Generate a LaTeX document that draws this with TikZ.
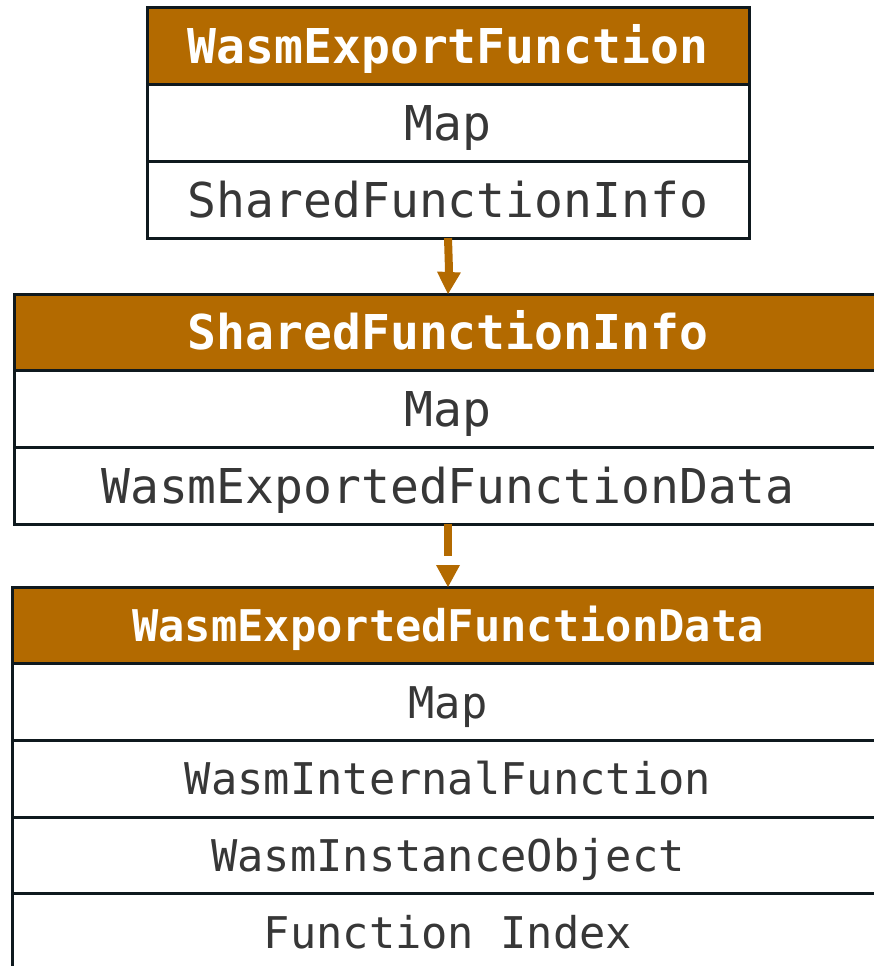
\documentclass[tikz,border=0pt]{standalone}
\usepackage{fontspec}
\usepackage{xcolor}
\usepackage{tikz}
\usetikzlibrary{arrows.meta,positioning}

\newfontfamily\codefont{DejaVu Sans Mono}
\definecolor{wasmbrown}{RGB}{179,106,0}
\definecolor{celltext}{RGB}{55,55,55}
\definecolor{cellline}{RGB}{15,25,30}

\begin{document}
\begin{tikzpicture}[
  x=1pt, y=-1pt,
  cell/.style={draw=cellline, line width=3pt, rectangle, outer sep=0pt,
    inner sep=0pt, minimum height=76.7pt, minimum width=#1,
    text height=35pt, text depth=0pt, align=center},
  head/.style={cell=#1, fill=wasmbrown, text=white,
    font=\codefont\bfseries\fontsize{48}{58}\selectfont},
  field/.style={cell=#1, fill=white, text=celltext,
    font=\codefont\fontsize{48}{58}\selectfont},
  smallhead/.style={head=#1, text height=32pt,
    font=\codefont\bfseries\fontsize{43.7}{52}\selectfont},
  smallfield/.style={field=#1, text height=32pt,
    font=\codefont\fontsize{43.7}{52}\selectfont},
  link/.style={-{Triangle[width=24pt, length=22pt, line width=0pt]},
    draw=wasmbrown, line width=8pt},
]
\clip (0,0) rectangle (874,966);

% --- WasmExportFunction
\node[head=602pt] (wef) at (448,46.35) {WasmExportFunction};
\node[field=602pt, below=0pt of wef] (wefmap) {Map};
\node[field=602pt, below=0pt of wefmap] (wefsfi) {SharedFunctionInfo};

% --- SharedFunctionInfo
\node[head=868pt] (sfi) at (448,332.35) {SharedFunctionInfo};
\node[field=868pt, below=0pt of sfi] (sfimap) {Map};
\node[field=868pt, below=0pt of sfimap] (sfidata) {WasmExportedFunctionData};

% --- WasmExportedFunctionData
\node[smallhead=872pt] (wefd) at (448,625.35) {WasmExportedFunctionData};
\node[smallfield=872pt, below=0pt of wefd] (wefdmap) {Map};
\node[smallfield=872pt, below=0pt of wefdmap] (wefdint) {WasmInternalFunction};
\node[smallfield=872pt, below=0pt of wefdint] (wefdinst) {WasmInstanceObject};
\node[smallfield=872pt, below=0pt of wefdinst] (wefdidx) {Function Index};

% links
\draw[link] (wefsfi.south) .. controls (449,270) .. (sfi.north);
\draw[link, dash pattern=on 32pt off 12pt] (sfidata.south) -- (wefd.north);
\end{tikzpicture}
\end{document}
